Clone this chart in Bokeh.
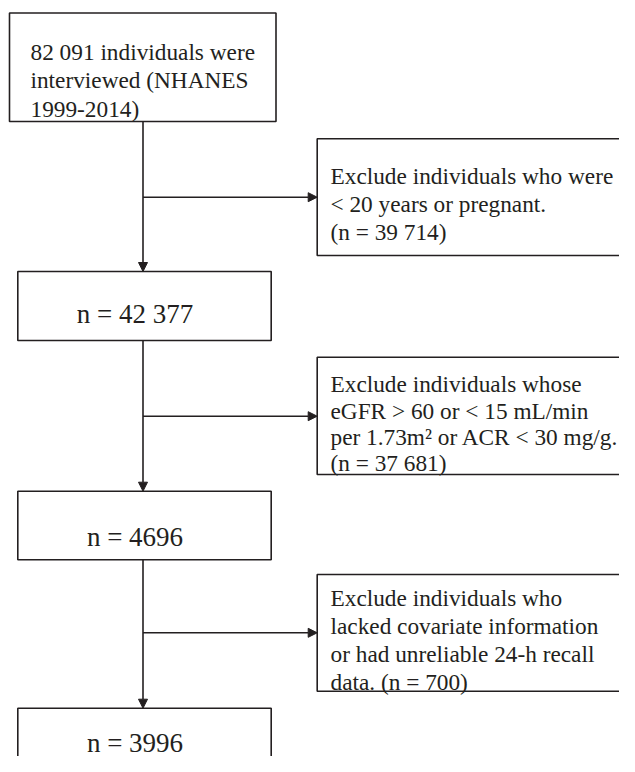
from bokeh.plotting import figure
from bokeh.models import Range1d, ColumnDataSource, Arrow, NormalHead
from bokeh.core.properties import value
from bokeh.embed import file_html
from bokeh.resources import INLINE

# ---- content (data) ----
start_lines = ["82 091 individuals were", "interviewed (NHANES", "1999-2014)"]
remaining_counts = ["n = 42 377", "n = 4696", "n = 3996"]
exclude_lines = [
    ["Exclude individuals who were", "< 20 years or pregnant.", "(n = 39 714)"],
    ["Exclude individuals whose", "eGFR > 60 or < 15 mL/min",
     "per 1.73m\u00b2 or ACR < 30 mg/g.", "(n = 37 681)"],
    ["Exclude individuals who", "lacked covariate information",
     "or had unreliable 24-h recall", "data. (n = 700)"],
]

# ---- layout (pixel coordinates of the reference) ----
W, H = 619, 756
INK = "#231f20"
FONT = "Liberation Serif"

start_box = (9, 275.5, 12.5, 121)           # left, right, top, bottom
start_text_x = 30
start_baselines = [51, 79.5, 108]

count_boxes = [(17.3, 270.7, 271, 340), (17.3, 270.7, 490.7, 559.3), (17.3, 270.7, 707.7, 800)]
count_text_x = 134.5
count_baselines = [313.5, 536, 742]

ex_boxes = [(316.7, 700, 138.3, 255), (316.7, 700, 356.7, 474), (316.7, 700, 574, 690.7)]
ex_text_x = 330
ex_baselines = [[175.5, 203.5, 231], [383, 410, 436.5, 462], [597, 625, 653.5, 681.5]]
ex_arrow_y = [196.7, 415.7, 632.3]

trunk_x = 142.5

p = figure(width=W, height=H, output_backend="svg", toolbar_location=None,
           x_range=Range1d(0, W), y_range=Range1d(H, 0),
           min_border=0, outline_line_color=None, background_fill_color="white",
           border_fill_color="white")
p.axis.visible = False
p.xgrid.visible = False
p.ygrid.visible = False

# boxes
boxes = [start_box] + count_boxes + ex_boxes
p.quad(left=[b[0] for b in boxes], right=[b[1] for b in boxes],
       top=[b[2] for b in boxes], bottom=[b[3] for b in boxes],
       fill_color=None, line_color=INK, line_width=1.6)

# vertical trunk arrows
tops = [start_box[3]] + [b[3] for b in count_boxes[:-1]]
ends = [b[2] for b in count_boxes]
for y0, y1 in zip(tops, ends):
    p.add_layout(Arrow(end=NormalHead(size=9, fill_color=INK, line_color=INK, line_width=1),
                       x_start=trunk_x, y_start=y0, x_end=trunk_x, y_end=y1,
                       line_color=INK, line_width=1.6))

# horizontal arrows
for y, b in zip(ex_arrow_y, ex_boxes):
    p.add_layout(Arrow(end=NormalHead(size=9, fill_color=INK, line_color=INK, line_width=1),
                       x_start=trunk_x, y_start=y, x_end=b[0], y_end=y,
                       line_color=INK, line_width=1.6))

# texts
tx, ty, tt, ts, ta = [], [], [], [], []
for line, y in zip(start_lines, start_baselines):
    tx.append(start_text_x); ty.append(y); tt.append(line); ts.append("23.3px"); ta.append("left")
for line, y in zip(remaining_counts, count_baselines):
    tx.append(count_text_x); ty.append(y); tt.append(line); ts.append("27px"); ta.append("center")
for lines, ys in zip(exclude_lines, ex_baselines):
    for line, y in zip(lines, ys):
        tx.append(ex_text_x); ty.append(y); tt.append(line); ts.append("23.3px"); ta.append("left")

src = ColumnDataSource(dict(x=tx, y=ty, text=tt, size=ts, align=ta))
p.text(x="x", y="y", text="text", source=src, text_font=value(FONT),
       text_font_size="size", text_align="align", text_baseline="alphabetic",
       text_color=INK)

open("out.html", "w").write(file_html(p, INLINE))
